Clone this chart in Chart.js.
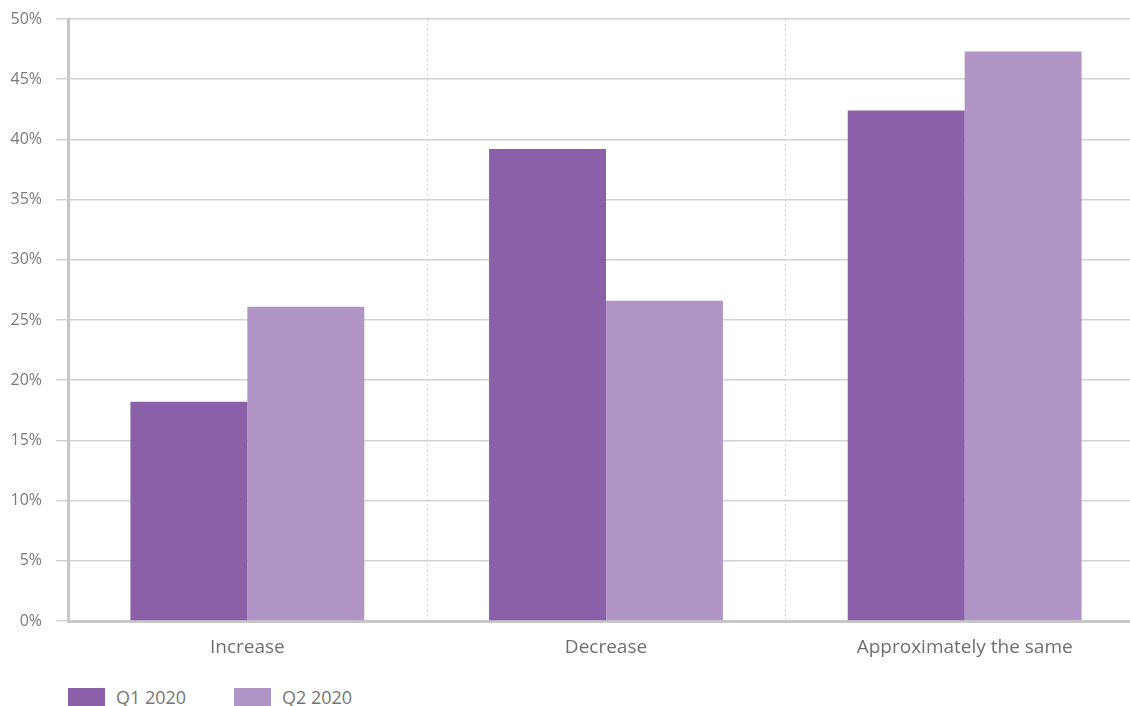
<!DOCTYPE html>
<html>
<head>
<meta charset="utf-8">
<script src="https://cdn.jsdelivr.net/npm/chart.js@4.4.1/dist/chart.umd.min.js"></script>
<style>
  html, body { margin: 0; padding: 0; background: #fff; overflow: hidden; }
  #wrap { position: relative; width: 1144px; height: 706px; }
  #chartBox { position: absolute; left: 0; top: 0; width: 1144px; height: 680px; }
  #legend { position: absolute; left: 68px; top: 688px; font-family: "Open Sans", sans-serif; font-size: 18px; color: #767676; white-space: nowrap; }
  #legend span.item { display: inline-block; width: 166px; }
  #legend span.box { display: inline-block; width: 37px; height: 18px; vertical-align: top; margin-right: 11px; }
  #legend span.txt { display: inline-block; line-height: 18px; vertical-align: top; position: relative; top: 0px; }
</style>
</head>
<body>
<div id="wrap">
  <div id="chartBox"><canvas id="trendChart"></canvas></div>
  <div id="legend"></div>
</div>
<script>
const categories = ["Increase", "Decrease", "Approximately the same"];
const seriesNames = ["Q1 2020", "Q2 2020"];
const q1Values = [18.2, 39.2, 42.4];
const q2Values = [26.1, 26.6, 47.3];
const yTicks = [0, 5, 10, 15, 20, 25, 30, 35, 40, 45, 50];

const colors = ["#8a60a8", "#b095c6"];

const ctx = document.getElementById("trendChart");

new Chart(ctx, {
  type: "bar",
  data: {
    labels: categories,
    datasets: [
      { label: seriesNames[0], data: q1Values, backgroundColor: colors[0] },
      { label: seriesNames[1], data: q2Values, backgroundColor: colors[1] },
    ],
  },
  options: {
    responsive: true,
    maintainAspectRatio: false,
    animation: false,
    layout: { padding: { top: 19, right: 0, left: 0, bottom: 0 } },
    datasets: {
      bar: { categoryPercentage: 0.652, barPercentage: 1.0, borderWidth: 0 },
    },
    plugins: {
      legend: { display: false },
      tooltip: { enabled: false },
    },
    scales: {
      x: {
        offset: true,
        grid: { display: false },
        border: { display: true, color: "#c8c8c8", width: 3 },
        ticks: {
          padding: 7,
          color: "#6f6f6f",
          font: { family: "Open Sans", size: 19 },
        },
        afterFit: function (scale) {
          scale.height = 59;
        },
      },
      y: {
        min: 0,
        max: 50,
        afterBuildTicks: function (scale) {
          scale.ticks = yTicks.map(function (v) { return { value: v }; });
        },
        grid: {
          color: "#d2d2d2",
          lineWidth: 1.5,
          tickLength: 12,
        },
        border: { display: true, color: "#c8c8c8", width: 3 },
        ticks: {
          padding: 14,
          color: "#7a7a7a",
          font: { family: "Open Sans", size: 16 },
          callback: function (v) { return v + "%"; },
        },
        afterFit: function (scale) {
          scale.width = 68;
          // keep the top tick label from pushing the plot down
          scale.paddingTop = 0;
          scale.paddingBottom = 0;
        },
      },
    },
  },
  plugins: [{
    // dotted separators between the category groups
    id: "dottedSeparators",
    beforeDatasetsDraw: function (chart) {
      const x = chart.scales.x;
      const area = chart.chartArea;
      const c = chart.ctx;
      c.save();
      c.strokeStyle = "#cfcfcf";
      c.lineWidth = 1;
      c.setLineDash([2, 3]);
      for (let i = 1; i < categories.length; i++) {
        const px = Math.round((x.getPixelForValue(i - 1) + x.getPixelForValue(i)) / 2) + 0.5;
        c.beginPath();
        c.moveTo(px, area.top);
        c.lineTo(px, area.bottom);
        c.stroke();
      }
      c.restore();
    },
  }],
});

// legend under the plot
const legend = document.getElementById("legend");
seriesNames.forEach(function (name, i) {
  const item = document.createElement("span");
  item.className = "item";
  const box = document.createElement("span");
  box.className = "box";
  box.style.background = colors[i];
  const txt = document.createElement("span");
  txt.className = "txt";
  txt.textContent = name;
  item.appendChild(box);
  item.appendChild(txt);
  legend.appendChild(item);
});
</script>
</body>
</html>
